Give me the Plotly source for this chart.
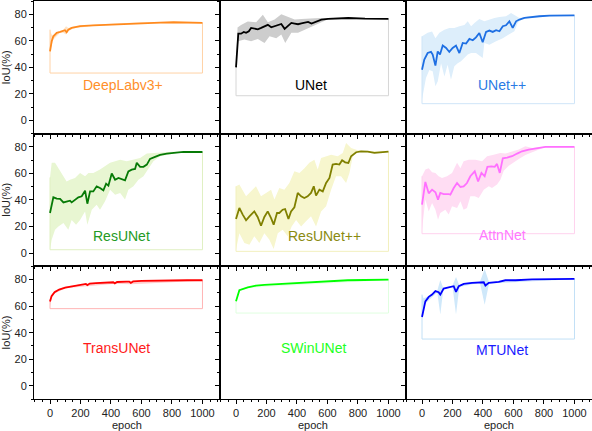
import plotly.graph_objects as go
from plotly.subplots import make_subplots

# ---------------- data ----------------
names = ["DeepLabv3+", "UNet", "UNet++", "ResUNet", "ResUNet++", "AttnNet",
         "TransUNet", "SWinUNet", "MTUNet"]

# DeepLabv3+
dl_ep = [0, 11, 22, 44, 66, 88, 98, 109, 120, 142, 197, 284, 372, 459, 547, 635, 722, 810, 897, 1000]
dl_iou = [52, 59.6, 63.4, 66, 66.7, 67.2, 68, 66.5, 68.4, 69.7, 71, 71.7, 72.2, 72.7, 73, 73.5, 73.7, 74, 73.7, 73.5]
dl_hi_ep = [0, 5, 15, 66, 88, 105, 120, 150, 300, 600, 1000]
dl_hi = [68.4, 66, 64, 67.5, 68.4, 71, 69.7, 70.5, 72.2, 74, 73.8]
dl_lo_ep = [0, 11, 22, 66, 88, 105, 120, 150, 300, 600, 1000]
dl_lo = [51, 57, 61, 66, 66, 64.7, 67.2, 69.3, 71.5, 73.3, 73.2]
dl_base = 35.7

# UNet
un_ep = [0, 15, 33, 51, 66, 84, 99, 121, 143, 165, 187, 209, 231, 253, 275, 297, 319, 341, 363, 385,
         407, 429, 451, 473, 495, 517, 538, 560, 604, 648, 692, 736, 846, 1000]
un_iou = [40, 65.4, 65.4, 66.7, 66, 67.2, 69.7, 69, 68.7, 69.7, 71, 72, 70.2, 71, 71.4, 72.7, 69, 71.4, 73.5, 73,
          72.5, 73.2, 73.5, 74.2, 73, 74, 75, 76, 76.5, 76.7, 77, 77.2, 76.7, 76.5]
un_hi_ep = [0, 10, 33, 77, 132, 176, 209, 253, 297, 330, 385, 429, 473, 517, 560, 604, 1000]
un_hi = [40, 70, 72, 74.5, 74, 79.7, 74, 76, 80, 78.5, 76, 76.5, 77, 77, 77.2, 76.8, 76.7]
un_lo_ep = [0, 15, 55, 99, 143, 187, 220, 264, 297, 323, 363, 407, 451, 495, 538, 604, 1000]
un_lo = [40, 59.6, 61, 59.6, 61.4, 58.4, 63.4, 62, 64.7, 58.4, 66, 66, 68.4, 70.4, 73, 76.2, 76.3]
un_base = 18.6

# UNet++
upp_ep = [0, 15, 37, 59, 70, 88, 103, 118, 136, 158, 179, 201, 223, 245, 267, 289, 311, 333, 354, 376,
          398, 420, 442, 464, 486, 508, 530, 551, 573, 595, 617, 639, 672, 726, 770, 836, 923, 1000]
upp_iou = [38.2, 45.8, 50.8, 51.6, 49.6, 41.3, 52, 49.6, 56.4, 54.6, 51.6, 54.6, 56.4, 50.8, 58.4, 57.9, 61.4,
           60.4, 62.6, 65.9, 58.9, 66.7, 67.7, 66.7, 68, 67.2, 71, 71.7, 74.7, 69.7, 74.7, 76, 77.2, 78, 78.5,
           79, 79, 79.2]
upp_hi_ep = [0, 37, 66, 88, 114, 147, 179, 212, 245, 278, 300, 322, 344, 376, 409, 442, 475, 508, 551, 584,
             617, 639, 700, 1000]
upp_hi = [63.4, 66, 67, 62, 66, 68.4, 69.7, 69.7, 71, 72, 74.7, 71, 73.5, 76.5, 74.7, 76, 77.2, 78, 78.5, 81,
          78.5, 77.2, 78.3, 79.4]
upp_lo_ep = [0, 26, 48, 70, 88, 103, 125, 147, 168, 190, 212, 234, 256, 278, 300, 322, 354, 398, 409, 442,
             486, 530, 573, 606, 628, 650, 700, 1000]
upp_lo = [15.6, 32, 38, 37, 25.7, 29.4, 43, 33, 42, 30.7, 40.8, 43, 44.5, 47, 49.6, 50.8, 50.8, 47, 58.4, 57,
          59.6, 62, 64.7, 67.2, 73.5, 76, 77.8, 79]
upp_base = 12.6

# ResUNet
ru_ep = [0, 22, 44, 66, 88, 109, 131, 142, 164, 186, 208, 230, 245, 263, 284, 306, 328, 350, 368, 383,
         405, 427, 449, 470, 492, 514, 536, 558, 569, 591, 613, 635, 656, 689, 722, 766, 810, 875, 941, 1000]
ru_iou = [30.2, 42, 41, 40.8, 38.2, 39, 39.5, 38.2, 40.3, 42, 42.8, 47, 37.2, 46.5, 46.5, 50.3, 49, 47.3, 52.3,
          50.8, 60, 55.3, 56.6, 55.8, 54.8, 61.6, 62.9, 63.4, 68, 65, 65, 66.7, 71, 72.5, 74, 75, 75.7, 76.2,
          76.2, 76.2]
ru_hi_ep = [0, 11, 33, 55, 77, 109, 131, 164, 197, 230, 252, 284, 328, 361, 394, 427, 460, 503, 547, 591,
            635, 678, 722, 800, 1000]
ru_hi = [57, 68, 68, 64, 59, 54, 55.3, 56.6, 60.4, 57.9, 60.4, 60.4, 62.9, 65.4, 68, 69.2, 70.4, 69.2, 70.4,
         71.7, 75, 75.5, 76, 76.4, 76.4]
ru_lo_ep = [0, 11, 33, 55, 88, 120, 142, 171, 197, 230, 245, 274, 306, 328, 361, 394, 427, 460, 492, 514,
            547, 580, 613, 645, 678, 722, 766, 850, 1000]
ru_lo = [2.5, 10, 17.6, 20, 22.6, 17.6, 25, 21.4, 25, 31.4, 21.4, 32.7, 36.5, 32.7, 39, 47.8, 44, 45.3, 40.3,
         47.8, 50.3, 55.3, 57.9, 62.9, 69.2, 73, 74.2, 75.8, 76]
ru_base = 2.5

# ResUNet++
rp_ep = [0, 22, 44, 66, 88, 120, 142, 164, 186, 208, 230, 247, 269, 284, 306, 322, 344, 361, 383, 405,
         427, 448, 470, 492, 510, 525, 547, 569, 591, 613, 634, 656, 678, 696, 716, 737, 755, 788, 820, 864,
         908, 951, 1000]
rp_iou = [25.7, 34, 29, 24.7, 27.7, 31.4, 27.2, 20.6, 27.2, 31.4, 26.4, 21.4, 30.2, 30.2, 32.7, 33.2, 25.7,
          31.4, 34.5, 45.3, 42.8, 41.5, 42.8, 45.3, 50.3, 43.3, 47.8, 46.5, 52.8, 56.6, 66.7, 67.2, 66.7, 70,
          68.4, 67.9, 73, 76, 76.7, 76.5, 75.5, 76, 76.5]
rp_hi_ep = [0, 22, 66, 98, 131, 164, 197, 230, 252, 284, 317, 350, 383, 416, 449, 481, 514, 536, 558, 591,
            624, 667, 700, 722, 755, 799, 842, 1000]
rp_hi = [50.3, 51.6, 42.8, 46.5, 50.3, 42.8, 45.3, 47.8, 40.3, 49, 47.8, 52.8, 61.6, 60.4, 64, 68, 70.4, 62.9,
         71.7, 73, 74.2, 73, 75.5, 83, 79.2, 77.5, 77, 76.8]
rp_lo_ep = [0, 22, 55, 88, 120, 153, 186, 219, 247, 274, 306, 339, 365, 394, 427, 459, 492, 525, 558, 591,
            624, 656, 689, 722, 744, 766, 799, 850, 1000]
rp_lo = [2.5, 15, 7.5, 6.3, 12.6, 7.5, 15, 10, 3, 15, 17.6, 12.6, 20, 25, 20, 24, 27.7, 20, 31.4, 35.2, 47.8,
         57.9, 57.9, 52.8, 60.4, 73, 76.5, 76, 76.2]
rp_base = 1.3

# AttnNet
an_ep = [0, 22, 44, 66, 88, 105, 120, 142, 175, 186, 208, 230, 252, 273, 295, 317, 346, 368, 390, 411,
         429, 455, 477, 492, 510, 530, 558, 591, 624, 656, 700, 744, 809, 897, 1000]
an_iou = [36.5, 53.6, 45, 47.8, 45.8, 40.3, 45.3, 44.5, 44.5, 44, 49, 52.8, 49.8, 50.3, 52.8, 57.9, 61.6, 54,
          60.4, 57.9, 65, 65.4, 65, 67.2, 60.4, 71.4, 72, 73, 75, 76.7, 78, 79, 80, 80, 80]
an_hi_ep = [0, 22, 44, 66, 88, 109, 131, 164, 197, 230, 252, 273, 306, 350, 394, 427, 470, 514, 547, 580,
            635, 678, 722, 800, 1000]
an_hi = [57.9, 62.9, 64, 61, 60.4, 57.9, 56.6, 57.9, 60.4, 68, 64, 69.2, 70.4, 70.4, 69.2, 73, 74.2, 75.5, 75,
         76, 78, 80.5, 79.2, 80.2, 80.2]
an_lo_ep = [0, 22, 44, 66, 88, 105, 120, 153, 175, 197, 230, 252, 273, 295, 317, 346, 372, 405, 438, 459,
            492, 514, 536, 569, 602, 635, 678, 722, 800, 1000]
an_lo = [17.6, 40.3, 31.4, 37.7, 32.7, 25.2, 30.2, 32.7, 29, 35.2, 34, 39, 32.7, 34, 42.8, 42.8, 41.5, 47.8,
         50.3, 49, 51.6, 55.3, 62.1, 65.9, 68.4, 71, 74, 76, 79.5, 79.8]
an_base = 14.6

# TransUNet
tu_ep = [0, 10, 30, 60, 100, 150, 200, 235, 245, 260, 300, 380, 415, 425, 440, 500, 520, 530, 545, 600,
         700, 800, 900, 1000]
tu_iou = [63.5, 67.5, 70.5, 72.5, 74, 75, 76.2, 76.8, 75.8, 77, 77.3, 77.8, 78, 77.2, 78.2, 78.5, 78.5, 77.5,
          78.6, 79, 79.3, 79.4, 79.5, 79.5]
tu_hi_ep = [0, 10, 30, 100, 245, 530, 1000]
tu_hi = [65, 68.5, 71.5, 74.8, 77, 78.8, 79.9]
tu_lo_ep = [0, 10, 30, 100, 245, 425, 530, 1000]
tu_lo = [60, 66, 69.5, 73.5, 75, 76.8, 76.5, 79.2]
tu_base = 58.1

# SWinUNet
sw_ep = [0, 11, 22, 77, 131, 186, 295, 405, 514, 624, 733, 842, 1000]
sw_iou = [63.6, 67.4, 72, 74.2, 75.5, 76, 76.7, 77.5, 78.2, 79, 79.5, 79.7, 80]
sw_hi_ep = [0, 11, 22, 77, 1000]
sw_hi = [64.5, 68.3, 72.6, 74.7, 80.3]
sw_lo_ep = [0, 11, 22, 77, 1000]
sw_lo = [62.5, 66.5, 71.4, 73.7, 79.7]
sw_base = 54.8

# MTUNet
mt_ep = [0, 22, 44, 66, 88, 109, 120, 142, 175, 208, 223, 241, 274, 328, 405, 416, 438, 503, 547, 613,
         722, 831, 1000]
mt_iou = [51.8, 63.6, 67, 68.7, 71.3, 70.5, 68.7, 73.2, 74.2, 75, 70.8, 75, 76.7, 77.5, 78, 75.5, 77.5, 78.2,
          79.5, 79.5, 80.2, 80.5, 80.5]
mt_hi_ep = [0, 10, 44, 100, 120, 140, 200, 223, 245, 380, 411, 440, 1000]
mt_hi = [68.7, 66, 67.5, 71.5, 79.7, 73.5, 75.5, 82, 75.5, 78.3, 88, 78, 80.7]
mt_lo_ep = [0, 22, 100, 120, 140, 200, 223, 245, 380, 411, 440, 1000]
mt_lo = [51, 62, 70.5, 53.6, 72.8, 74.8, 53.6, 74.5, 77.7, 61, 77, 80.3]
mt_base = 35.2

# label positions (data coords of the name text in each panel)
label_x = [479, 494, 527, 472, 579, 527, 439, 507, 527]
label_y = [26.4, 26.4, 26.4, 12.8, 12.5, 13.6, 28.7, 28.7, 27.2]

line_colors = ["#FF8A1E", "#000000", "#1E6FE3", "#067A06", "#808000", "#FF70FF",
               "#FF0000", "#00FF00", "#0000FF"]
text_colors = ["#FF8F2A", "#000000", "#2A7AE4", "#249A24", "#8A8A10", "#FF78FF",
               "#FF1A1A", "#22FF22", "#1A1AFF"]
band_colors = ["#FFE2C4", "#CDCDCD", "#DDEEFB", "#E8F6D2", "#F7F6CE", "#FFDDF3",
               "#FFCDCD", "#E8FFE8", "#CFE8FA"]
box_colors = ["#FFD2A6", "#D6D6D6", "#CFE5F8", "#E0F0C2", "#F2F0BE", "#FFD2EE",
              "#FFB4B4", "#E0FFE0", "#C2E0F6"]

panels = [
    (dl_ep, dl_iou, dl_hi_ep, dl_hi, dl_lo_ep, dl_lo, dl_base),
    (un_ep, un_iou, un_hi_ep, un_hi, un_lo_ep, un_lo, un_base),
    (upp_ep, upp_iou, upp_hi_ep, upp_hi, upp_lo_ep, upp_lo, upp_base),
    (ru_ep, ru_iou, ru_hi_ep, ru_hi, ru_lo_ep, ru_lo, ru_base),
    (rp_ep, rp_iou, rp_hi_ep, rp_hi, rp_lo_ep, rp_lo, rp_base),
    (an_ep, an_iou, an_hi_ep, an_hi, an_lo_ep, an_lo, an_base),
    (tu_ep, tu_iou, tu_hi_ep, tu_hi, tu_lo_ep, tu_lo, tu_base),
    (sw_ep, sw_iou, sw_hi_ep, sw_hi, sw_lo_ep, sw_lo, sw_base),
    (mt_ep, mt_iou, mt_hi_ep, mt_hi, mt_lo_ep, mt_lo, mt_base),
]

FONT = "Liberation Sans, Arial, sans-serif"

fig = make_subplots(rows=3, cols=3, horizontal_spacing=0, vertical_spacing=0)

for i, (ep, iou, hx, hy, lx, ly, base) in enumerate(panels):
    r, c = i // 3 + 1, i % 3 + 1
    # band
    fig.add_trace(go.Scatter(x=list(hx) + list(lx)[::-1], y=list(hy) + list(ly)[::-1],
                             fill="toself", fillcolor=band_colors[i], mode="lines",
                             line=dict(width=0), hoverinfo="skip", showlegend=False),
                  row=r, col=c)
    # outline of the filled area down to the baseline
    fig.add_trace(go.Scatter(x=[ep[0], ep[0], ep[-1], ep[-1]], y=[hy[0], base, base, iou[-1]],
                             mode="lines", line=dict(color=box_colors[i], width=1),
                             hoverinfo="skip", showlegend=False),
                  row=r, col=c)
    # mean curve
    fig.add_trace(go.Scatter(x=ep, y=iou, mode="lines",
                             line=dict(color=line_colors[i], width=1.8),
                             name=names[i], showlegend=False),
                  row=r, col=c)
    axn = "" if i == 0 else str(i + 1)
    fig.add_annotation(x=label_x[i], y=label_y[i], xref="x" + axn, yref="y" + axn,
                       text=names[i], showarrow=False,
                       font=dict(family=FONT, size=14, color=text_colors[i]))

W, H = 592, 431
ml, mr, mt_, mb = 34, 0, 1, 32
fig.update_layout(width=W, height=H, margin=dict(l=ml, r=mr, t=mt_, b=mb),
                  plot_bgcolor="white", paper_bgcolor="white",
                  font=dict(family=FONT, size=11, color="#222"))

for i in range(9):
    r, c = i // 3 + 1, i % 3 + 1
    fig.update_xaxes(row=r, col=c, range=[-105, 1115], tick0=0, dtick=200,
                     showticklabels=(r == 3), ticks="outside", ticklen=4, tickwidth=1,
                     tickcolor="black",
                     minor=dict(ticks="outside", ticklen=2, dtick=50, tick0=0, tickcolor="black"),
                     showline=True, linecolor="black", linewidth=1, mirror=True,
                     showgrid=False, zeroline=False,
                     tickfont=dict(size=11, color="#222"),
                     title=dict(text="epoch" if r == 3 else "", standoff=2,
                                font=dict(size=11, color="#222")))
    fig.update_yaxes(row=r, col=c, range=[-10, 90], tick0=0, dtick=20,
                     showticklabels=(c == 1), ticks="outside", ticklen=4, tickwidth=1,
                     tickcolor="black",
                     minor=dict(ticks="outside", ticklen=2, dtick=10, tick0=0, tickcolor="black"),
                     showline=True, linecolor="black", linewidth=1, mirror=(c != 3),
                     showgrid=False, zeroline=False,
                     tickfont=dict(size=11, color="#222"),
                     title=dict(text="IoU(%)" if c == 1 else "", standoff=4,
                                font=dict(size=11, color="#222")))

fig.write_html("out.html")
